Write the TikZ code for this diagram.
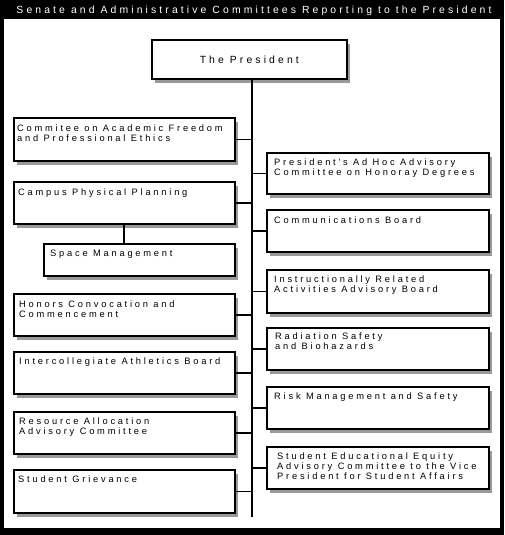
\documentclass[tikz,border=0pt]{standalone}
\usepackage{fontspec}
\setmainfont{Liberation Sans}
\newfontfamily\boxfont{Liberation Sans}[LetterSpace=30]
\usetikzlibrary{shadows}
\begin{document}
\begin{tikzpicture}[x=1pt,y=-1pt,
  box/.style={draw=black, line width=1.6pt, fill=white, rectangle, inner sep=0pt, anchor=north west,
    drop shadow={shadow xshift=3pt, shadow yshift=-4pt, fill=black, opacity=0.4}},
  lbox/.style={box, minimum width=221pt},
  rbox/.style={box, minimum width=222pt},
  txt/.style={anchor=north west, inner sep=0pt, align=left, font=\boxfont\fontsize{9.3}{10}\selectfont},
  conn/.style={line width=1.6pt}]
\useasboundingbox (0,0) rectangle (504,535);
\fill[black] (0,0) rectangle (504,535);
\fill[white] (4,19) rectangle (500,528);
\node[text=white, anchor=base, inner sep=0pt, font=\boxfont\fontsize{10.4}{12}\selectfont] (title) at (254,14) {Senate and Administrative Committees Reporting to the President};

\coordinate (tb) at (252,517);
\coordinate (sx) at (124,0);

% president
\node[box, minimum width=195pt, minimum height=39pt] (pres) at (151,39) {};
\node[inner sep=0pt, font=\boxfont\fontsize{10.4}{12}\selectfont] (prest) at (pres.center) {The President};

% left boxes
\node[lbox, minimum height=43pt] (l1) at (13,117) {};
\node[lbox, minimum height=42pt] (l2) at (13,181) {};
\node[box, minimum width=191pt, minimum height=32pt] (l2a) at (43,243) {};
\node[lbox, minimum height=42pt] (l3) at (13,293) {};
\node[lbox, minimum height=42pt] (l4) at (13,351) {};
\node[lbox, minimum height=42pt] (l5) at (13,411) {};
\node[lbox, minimum height=43pt] (l6) at (13,469) {};

% right boxes
\node[rbox, minimum height=41pt] (r1) at (266,152) {};
\node[rbox, minimum height=42pt] (r2) at (266,209) {};
\node[rbox, minimum height=43pt] (r3) at (266,269) {};
\node[rbox, minimum height=42pt] (r4) at (266,327) {};
\node[rbox, minimum height=42pt] (r5) at (266,386) {};
\node[rbox, minimum height=42pt] (r6) at (266,446) {};

% connectors
\draw[conn] (pres.south -| tb) -- (tb);
\foreach \b in {l1,l2,l3,l4,l5,l6}{\draw[conn] (\b.east) -- (\b.east -| tb);}
\foreach \b in {r1,r2,r3,r4,r5,r6}{\draw[conn] (\b.west) -- (\b.west -| tb);}
\draw[conn] (l2.south -| sx) -- (l2a.north -| sx);

% texts
\node[txt, xshift=4pt, yshift=-8pt] (l1t) at (l1.north west) {Commitee on Academic Freedom\\and Professional Ethics};
\node[txt, xshift=5pt, yshift=-8pt] (l2t) at (l2.north west) {Campus Physical Planning};
\node[txt, xshift=7pt, yshift=-7pt] (l2at) at (l2a.north west) {Space Management};
\node[txt, xshift=6pt, yshift=-8pt] (l3t) at (l3.north west) {Honors Convocation and\\Commencement};
\node[txt, xshift=6pt, yshift=-7pt] (l4t) at (l4.north west) {Intercollegiate Athletics Board};
\node[txt, xshift=6pt, yshift=-7pt] (l5t) at (l5.north west) {Resource Allocation\\Advisory Committee};
\node[txt, xshift=5pt, yshift=-7pt] (l6t) at (l6.north west) {Student Grievance};

\node[txt, xshift=8pt, yshift=-7pt] (r1t) at (r1.north west) {President's Ad Hoc Advisory\\Committee on Honoray Degrees};
\node[txt, xshift=8pt, yshift=-8pt] (r2t) at (r2.north west) {Communications Board};
\node[txt, xshift=8pt, yshift=-7pt] (r3t) at (r3.north west) {Instructionally Related\\Activities Advisory Board};
\node[txt, xshift=9pt, yshift=-6pt] (r4t) at (r4.north west) {Radiation Safety\\and Biohazards};
\node[txt, xshift=8pt, yshift=-7pt] (r5t) at (r5.north west) {Risk Management and Safety};
\node[txt, xshift=11pt, yshift=-7pt] (r6t) at (r6.north west) {Student Educational Equity\\Advisory Committee to the Vice\\President for Student Affairs};
\end{tikzpicture}
\end{document}
